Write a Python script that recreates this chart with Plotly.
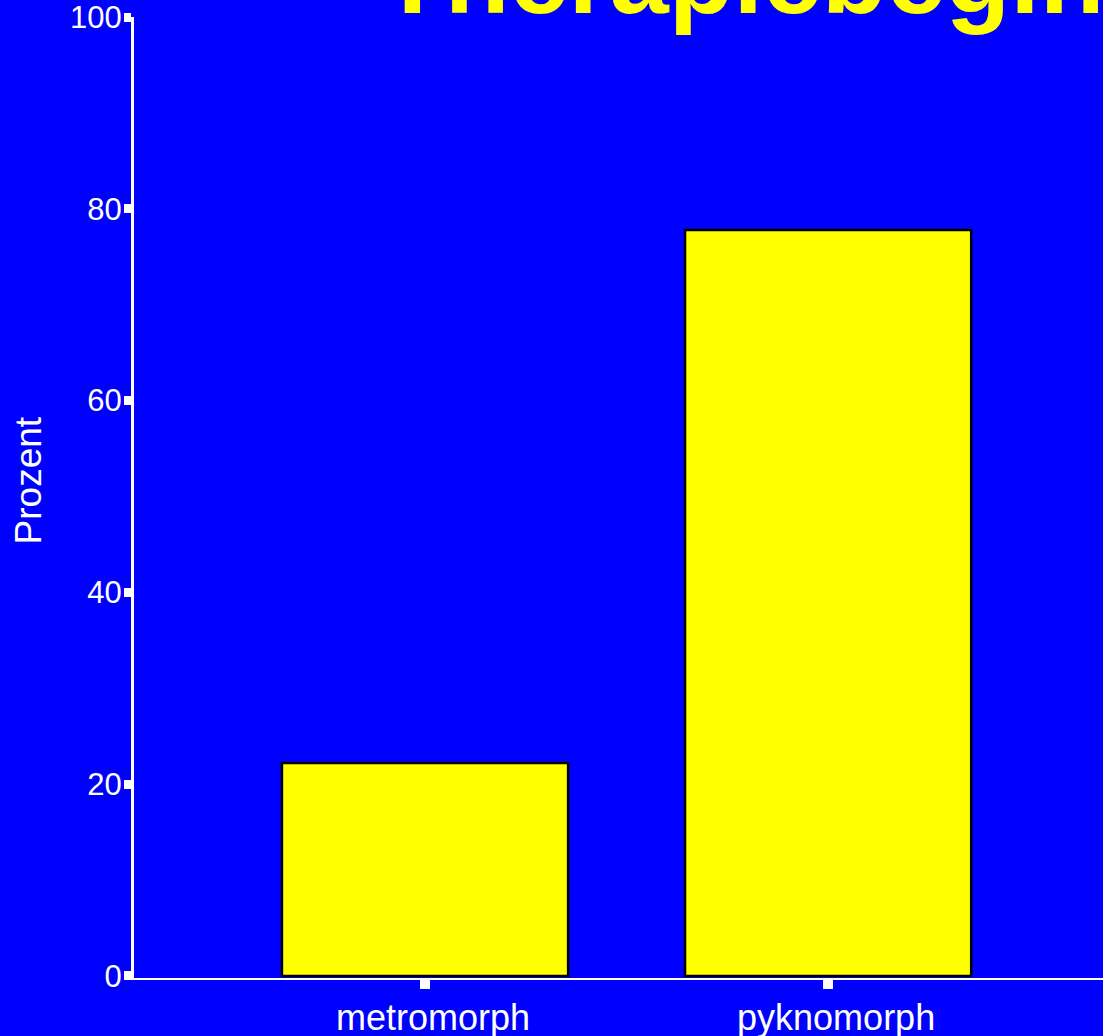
import plotly.graph_objects as go

# Data
categories = ["metromorph", "pyknomorph"]
percent = [22.2, 77.8]
y_ticks = [0, 20, 40, 60, 80, 100]
title_text = "Therapiebeginn"
y_label = "Prozent"

BLUE = "#0000FF"
YELLOW = "#FFFF00"
WHITE = "#FFFFFF"
FONT = "Liberation Sans, Arial, sans-serif"

fig = go.Figure()
fig.add_trace(
    go.Bar(
        x=categories,
        y=percent,
        marker=dict(color=YELLOW, line=dict(color="#000000", width=2.5)),
        hoverinfo="x+y",
    )
)

fig.update_layout(
    width=1103,
    height=1036,
    margin=dict(l=134, r=0, t=17, b=58, autoexpand=False),
    paper_bgcolor=BLUE,
    plot_bgcolor=BLUE,
    bargap=0.29,
    showlegend=False,
    font=dict(family=FONT, color=WHITE),
)

fig.update_xaxes(
    range=[-0.722, 1.682],
    automargin=False,
    showgrid=False,
    zeroline=False,
    showline=True,
    linecolor=WHITE,
    linewidth=2,
    ticks="outside",
    ticklen=9,
    tickwidth=10,
    tickcolor=WHITE,
    tickfont=dict(size=36, color=WHITE, family=FONT),
    ticklabelshift=8,
    ticklabelstandoff=-2,
    ticklabeloverflow="allow",
)

fig.update_yaxes(
    range=[-0.21, 100],
    automargin=False,
    tickvals=y_ticks,
    ticktext=[str(v) for v in y_ticks],
    showgrid=False,
    zeroline=False,
    showline=True,
    linecolor=WHITE,
    linewidth=3,
    ticks="outside",
    ticklen=7,
    tickwidth=9,
    tickcolor=WHITE,
    tickfont=dict(size=31, color=WHITE, family=FONT),
    ticklabelstandoff=-4,
    ticklabeloverflow="allow",
)

# Axis title
fig.add_annotation(
    text=y_label,
    xref="paper", yref="paper",
    x=-0.1084, y=0.5177,
    xanchor="center", yanchor="middle",
    textangle=-90,
    showarrow=False,
    font=dict(size=37, color=WHITE, family=FONT),
)

# Chart title (runs off the top edge)
fig.add_annotation(
    text="<b>" + title_text + "</b>",
    xref="paper", yref="paper",
    x=0.2515, y=0.9797,
    xanchor="left", yanchor="bottom",
    showarrow=False,
    font=dict(size=106, color=YELLOW, family=FONT),
)

fig.write_html("out.html")
